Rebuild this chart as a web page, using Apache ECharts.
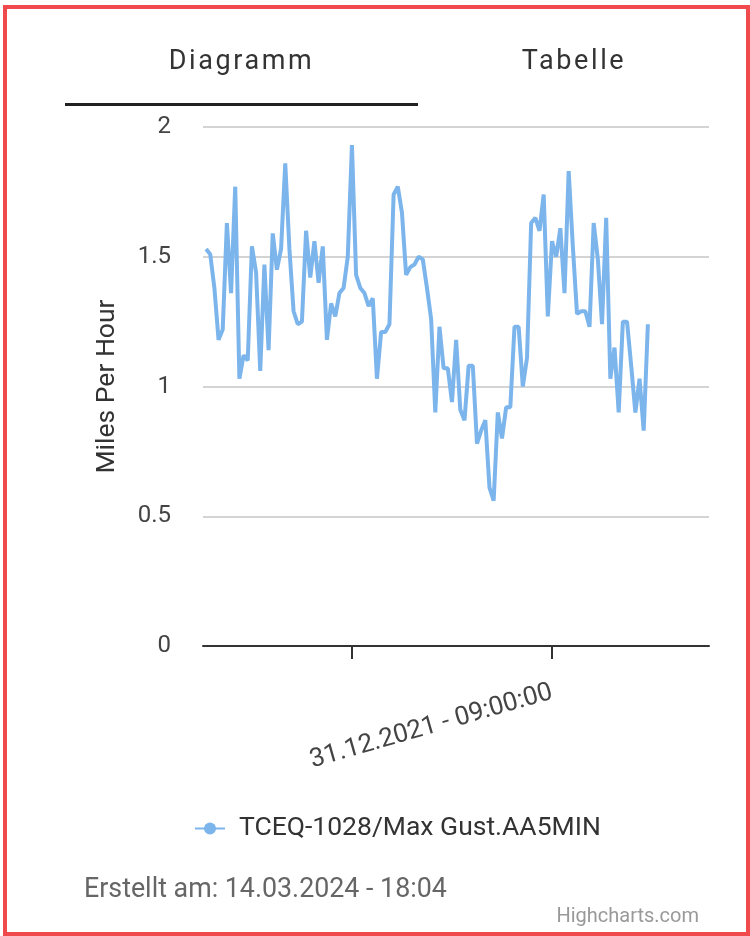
<!DOCTYPE html>
<html>
<head>
<meta charset="utf-8">
<script src="https://cdn.jsdelivr.net/npm/echarts@6/dist/echarts.min.js"></script>
<style>
  html, body { margin: 0; padding: 0; background: #fff; }
  #chart { position: absolute; left: 0; top: 0; width: 750px; height: 936px; }
  .frame { position: absolute; left: 3px; top: 5px; width: 739px; height: 923px;
           border: 4px solid #f04a4c; pointer-events: none; }
  .tab { position: absolute; top: 40px; height: 40px; line-height: 40px; text-align: center;
         font-family: Roboto, sans-serif; font-size: 27px; letter-spacing: 2.6px; color: #333; }
  .bar { position: absolute; left: 65px; top: 103px; width: 353px; height: 3px; background: #222; }
</style>
</head>
<body>
<div id="chart"></div>
<div class="tab" style="left:65px; width:353px;">Diagramm</div>
<div class="tab" style="left:418px; width:312px;">Tabelle</div>
<div class="bar"></div>
<div class="frame"></div>
<script>
  // Messwerte, alle 15 Minuten ab 30.12.2021 12:15
  var seriesName = 'TCEQ-1028/Max Gust.AA5MIN';
  var startTime = Date.UTC(2021, 11, 30, 12, 15);
  var stepMs = 15 * 60 * 1000;
  var gust = [
    1.53, 1.51, 1.38, 1.18, 1.22, 1.63, 1.36, 1.77, 1.03, 1.12,
    1.10, 1.54, 1.44, 1.06, 1.47, 1.14, 1.59, 1.45, 1.53, 1.86,
    1.53, 1.29, 1.24, 1.25, 1.60, 1.42, 1.56, 1.40, 1.54, 1.18,
    1.32, 1.27, 1.36, 1.38, 1.50, 1.93, 1.43, 1.38, 1.36, 1.31,
    1.34, 1.03, 1.21, 1.21, 1.24, 1.74, 1.77, 1.67, 1.43, 1.46,
    1.47, 1.50, 1.49, 1.38, 1.26, 0.90, 1.23, 1.07, 1.07, 0.94,
    1.18, 0.91, 0.87, 1.08, 1.08, 0.78, 0.83, 0.87, 0.61, 0.56,
    0.90, 0.80, 0.92, 0.92, 1.23, 1.23, 1.00, 1.11, 1.63, 1.65,
    1.60, 1.74, 1.27, 1.56, 1.50, 1.61, 1.36, 1.83, 1.54, 1.28,
    1.29, 1.29, 1.23, 1.63, 1.49, 1.24, 1.65, 1.03, 1.15, 0.90,
    1.25, 1.25, 1.08, 0.90, 1.03, 0.83, 1.24
  ];
  var xMin = Date.UTC(2021, 11, 30, 12, 4);
  var xMax = Date.UTC(2021, 11, 31, 18, 25);
  var tickTimes = [Date.UTC(2021, 11, 30, 21, 0), Date.UTC(2021, 11, 31, 9, 0)];
  var labelTimes = [Date.UTC(2021, 11, 31, 9, 0)];

  var points = gust.map(function (v, i) { return [startTime + i * stepMs, v]; });

  function pad(n) { return (n < 10 ? '0' : '') + n; }
  function fmt(t) {
    var d = new Date(t);
    return pad(d.getUTCDate()) + '.' + pad(d.getUTCMonth() + 1) + '.' + d.getUTCFullYear() +
      ' - ' + pad(d.getUTCHours()) + ':' + pad(d.getUTCMinutes()) + ':' + pad(d.getUTCSeconds());
  }

  var chart = echarts.init(document.getElementById('chart'));
  var font = 'Roboto, sans-serif';

  var option = {
    animation: false,
    textStyle: { fontFamily: font },
    grid: { left: 203, right: 41, top: 127, bottom: 290 },
    legend: {
      left: 189,
      top: 810,
      itemWidth: 30,
      itemHeight: 15,
      textStyle: { fontSize: 26.5, color: '#333', fontFamily: font, padding: [0, 0, 0, 9] },
      data: [seriesName]
    },
    xAxis: {
      type: 'value',
      min: xMin,
      max: xMax,
      splitLine: { show: false },
      axisLine: { lineStyle: { color: '#333', width: 2 } },
      axisTick: { show: true, length: 13, lineStyle: { color: '#333', width: 2 }, customValues: tickTimes },
      axisLabel: {
        customValues: labelTimes,
        rotate: 16,
        margin: 46,
        fontSize: 26,
        color: '#444',
        fontFamily: font,
        formatter: fmt
      }
    },
    yAxis: {
      type: 'value',
      min: 0,
      max: 2,
      interval: 0.5,
      name: 'Miles Per Hour',
      nameLocation: 'middle',
      nameGap: 82,
      nameTextStyle: { fontSize: 26.5, color: '#333', fontFamily: font },
      axisLine: { show: false },
      axisTick: { show: false },
      axisLabel: { margin: 32, fontSize: 24, color: '#444', fontFamily: font },
      splitLine: { lineStyle: { color: '#d4d4d4', width: 2 } }
    },
    series: [{
      name: seriesName,
      type: 'line',
      data: points,
      showSymbol: false,
      symbol: 'circle',
      symbolSize: 13,
      color: '#7cb5ec',
      lineStyle: { width: 4, color: '#7cb5ec' }
    }],
    graphic: [
      {
        type: 'text', left: 84, top: 877,
        style: { text: 'Erstellt am: 14.03.2024 - 18:04', fontSize: 26.8, fill: '#666', fontFamily: font }
      },
      {
        type: 'text', right: 51, top: 907,
        style: { text: 'Highcharts.com', fontSize: 20, fill: '#999', fontFamily: font }
      }
    ]
  };

  chart.setOption(option);
</script>
</body>
</html>
